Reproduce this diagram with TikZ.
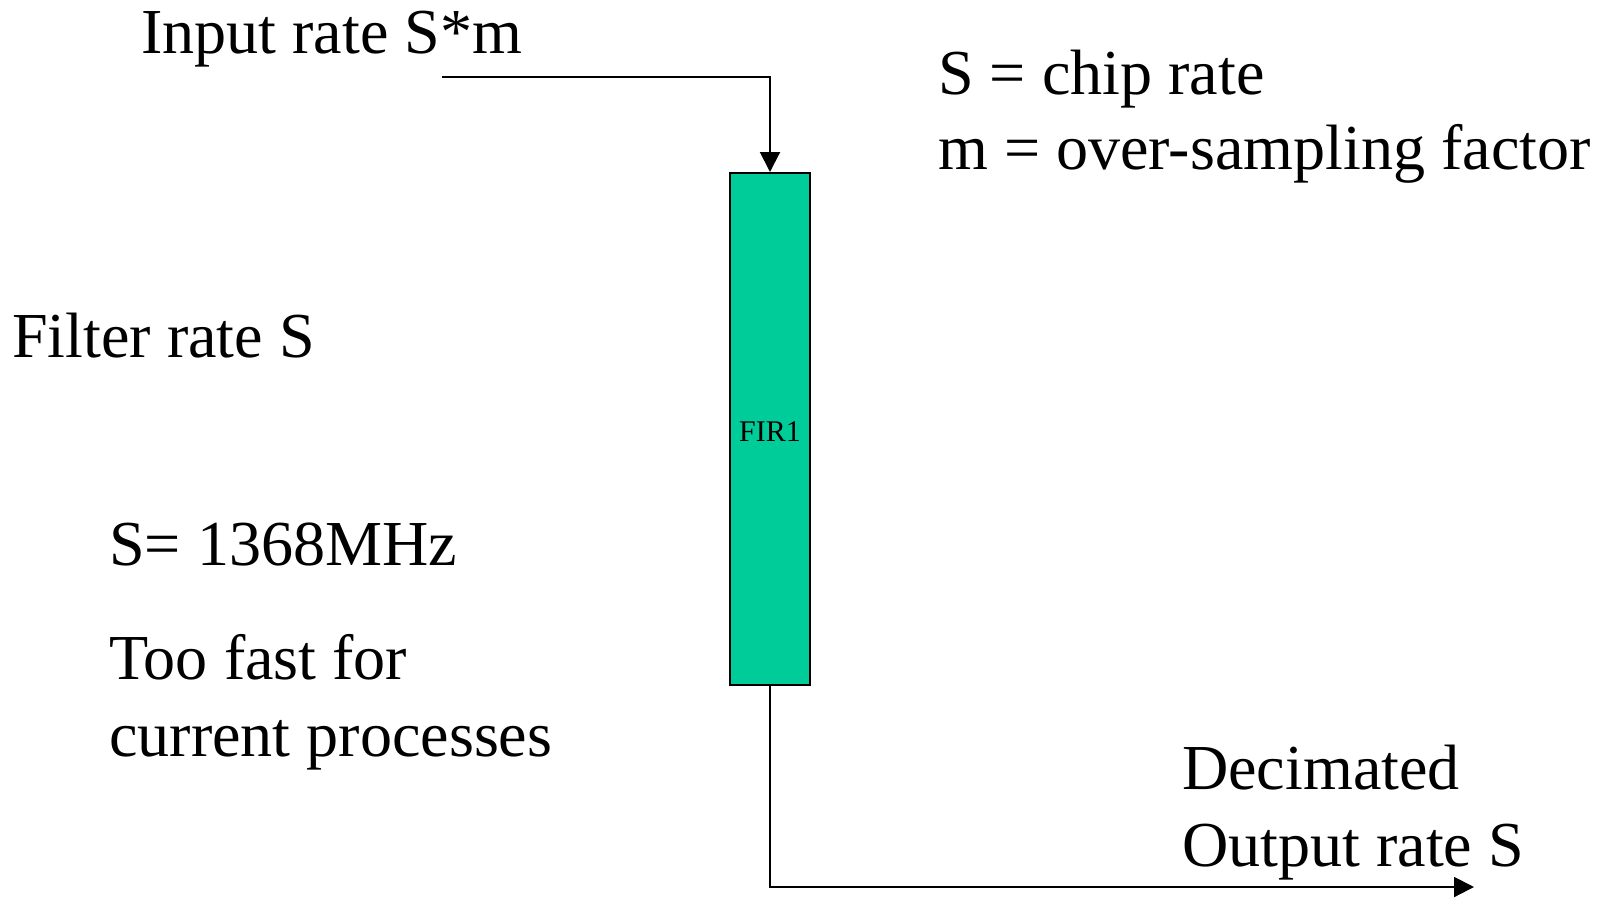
\documentclass[tikz,border=0pt]{standalone}
\usepackage{fontspec}
\setmainfont{Liberation Serif}
\usetikzlibrary{arrows.meta}
\begin{document}
\begin{tikzpicture}[x=1pt,y=-1pt,
  lbl/.style={anchor=base west,inner sep=0pt,font=\fontsize{64.1}{76.6}\selectfont},
  firbox/.style={draw=black,line width=2pt,fill=firgreen,minimum width=80pt,minimum height=512pt,inner sep=0pt,font=\fontsize{30}{36}\selectfont},
  conn/.style={line width=2pt,-{Triangle[width=20pt,length=20pt]}}]
\definecolor{firgreen}{RGB}{0,204,153}
\useasboundingbox (0,0) rectangle (1602,898);
\node[firbox] (fir) at (770,429) {\raisebox{-2.5pt}[\height][\depth]{FIR1}};
\node[lbl] (inrate) at (141,53) {Input rate S*m};
\node[lbl] (chip) at (938,94) {S = chip rate};
\node[lbl] (over) at (938,169.6) {m = over-sampling factor};
\node[lbl] (filt) at (12,357.6) {Filter rate S};
\node[lbl] (freq) at (109,565) {S= 1368MHz};
\node[lbl] (fast1) at (109,679.4) {Too fast for};
\node[lbl] (fast2) at (109,756) {current processes};
\node[lbl] (dec1) at (1182,789.8) {Decimated};
\node[lbl] (dec2) at (1182,866.4) {Output rate S};
\coordinate (inStart) at (442,77);
\coordinate (outEnd) at (1474,887);
\draw[conn] (inStart) -| (fir.north);
\draw[conn] (fir.south) |- (outEnd);
\end{tikzpicture}
\end{document}
